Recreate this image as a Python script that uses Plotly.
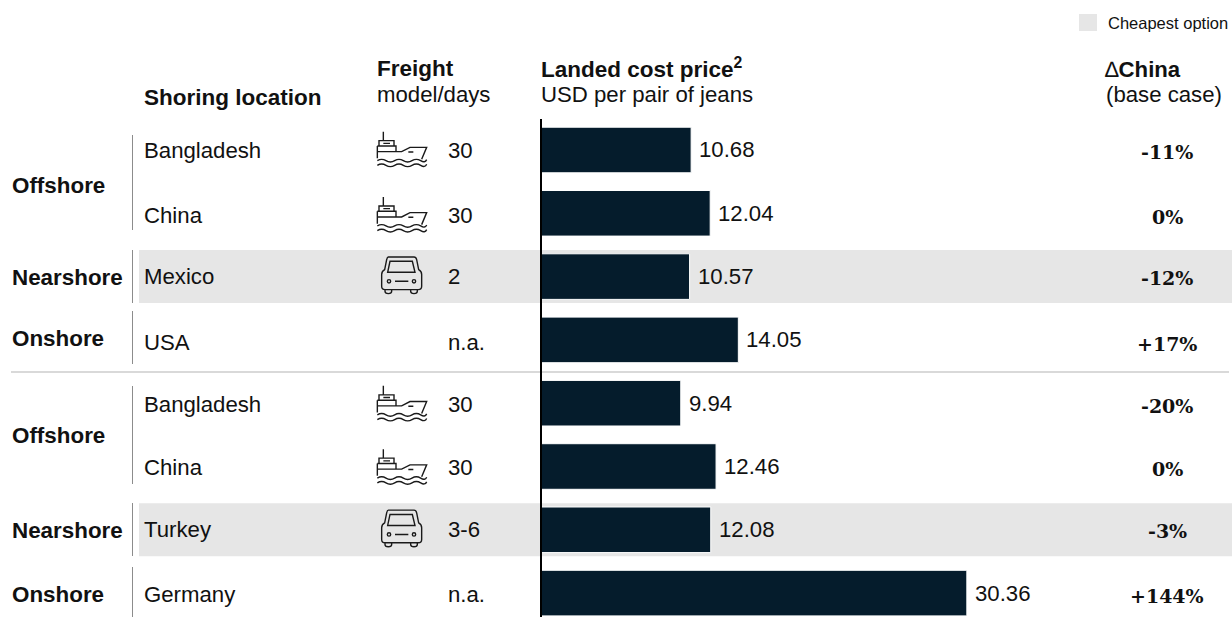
import plotly.graph_objects as go

W, H = 1232, 617

# ---- data ----
locations = ["Bangladesh", "China", "Mexico", "USA", "Bangladesh", "China", "Turkey", "Germany"]
freight_modes = ["ship", "ship", "car", None, "ship", "ship", "car", None]
freight_days = ["30", "30", "2", "n.a.", "30", "30", "3-6", "n.a."]
landed_cost = [10.68, 12.04, 10.57, 14.05, 9.94, 12.46, 12.08, 30.36]
delta_china = ["-11%", "0%", "-12%", "+17%", "-20%", "0%", "-3%", "+144%"]
cheapest_rows = [2, 6]
groups = ["Offshore", "Nearshore", "Onshore", "Offshore", "Nearshore", "Onshore"]

rows = list(range(len(locations)))

# ---- geometry ----
ROW0, ROW_H = 150.0, 63.3
AX_LEFT, AX_TOP = 541.5, 119
PX_PER_USD = 14.01
NAVY = "#051c2c"
GREY = "#e6e6e6"
INK = "#111111"
SANS = "Liberation Sans, Arial, sans-serif"
SERIF = "DejaVu Serif, Georgia, serif"


def fx(x):
    return x / W


def fy(y):
    return 1 - y / H


def row_y(i):
    return ROW0 + ROW_H * i


def scale_path(cmds):
    out = []
    for c in cmds:
        if isinstance(c, str):
            out.append(c)
        else:
            out.append(f"{fx(c[0]):.5f},{fy(c[1]):.5f}")
    return " ".join(out)


def ship_path(cy):
    def p(X, Y):
        return (360 + X / 3, cy + (Y - 180) / 3)
    c = []
    c += ["M", p(70, 125), "L", p(70, 150)]
    c += ["M", p(57, 168), "L", p(57, 152), "L", p(102, 152), "L", p(102, 168)]
    c += ["M", p(70, 160), "L", p(90, 160)]
    c += ["M", p(52, 168), "L", p(108, 168), "L", p(108, 185)]
    c += ["M", p(52, 168), "L", p(52, 205)]
    c += ["M", p(52, 185), "L", p(125, 185), "L", p(150, 172), "L", p(200, 172), "L", p(185, 208)]
    c += ["M", p(145, 186), "L", p(160, 186)]
    for wy in (212, 226):
        c += ["M", p(52, wy), "Q", p(65, wy - 8), p(78, wy), "T", p(104, wy), "T", p(130, wy), "T", p(156, wy), "T", p(182, wy), "T", p(200, wy - 3)]
    return scale_path(c)


def car_path(cy):
    def p(X, Y):
        return (360 + X / 3, cy + (Y - 561) / 3)
    c = []
    c += ["M", p(85, 502), "L", p(162, 502), "Q", p(168, 502), p(170, 510), "L", p(176, 540),
          "Q", p(185, 545), p(185, 555), "L", p(185, 590), "Q", p(185, 600), p(175, 600),
          "L", p(75, 600), "Q", p(65, 600), p(65, 590), "L", p(65, 555), "Q", p(65, 545), p(74, 540),
          "L", p(80, 510), "Q", p(82, 502), p(85, 502), "Z"]
    c += ["M", p(90, 515), "L", p(157, 515), "L", p(165, 548), "L", p(83, 548), "Z"]
    c += ["M", p(105, 575), "L", p(145, 575)]
    for lx in (87, 162):
        c += ["M", p(lx - 5, 575), "Q", p(lx - 5, 570), p(lx, 570), "Q", p(lx + 5, 570), p(lx + 5, 575),
              "Q", p(lx + 5, 580), p(lx, 580), "Q", p(lx - 5, 580), p(lx - 5, 575), "Z"]
    for wx in (75, 152):
        c += ["M", p(wx, 600), "L", p(wx, 605), "Q", p(wx, 612), p(wx + 10, 612), "Q", p(wx + 20, 612), p(wx + 20, 605), "L", p(wx + 20, 600)]
    return scale_path(c)


fig = go.Figure(go.Bar(
    x=landed_cost,
    y=rows,
    orientation="h",
    marker=dict(color=NAVY, line=dict(color="white", width=1)),
    width=0.72,
    hoverinfo="skip",
))

shapes = []


def rect(x0, y0, x1, y1, color):
    shapes.append(dict(type="rect", xref="paper", yref="paper", layer="below",
                       x0=fx(x0), x1=fx(x1), y0=fy(y0), y1=fy(y1),
                       fillcolor=color, line=dict(width=0)))


def line(x0, y0, x1, y1, color, width):
    shapes.append(dict(type="line", xref="paper", yref="paper", layer="below",
                       x0=fx(x0), x1=fx(x1), y0=fy(y0), y1=fy(y1),
                       line=dict(color=color, width=width)))


rect(1079, 14, 1097, 31, GREY)
for r in cheapest_rows:
    cy = row_y(r)
    rect(139, cy - 26.5, W, cy + 26.5, GREY)

line(11, 372, 1229, 372, "#cccccc", 1.5)
for y0, y1 in [(135, 230), (250, 303), (311, 364), (386, 484), (503, 556), (567, 617)]:
    line(132.5, y0, 132.5, y1, "#8c8c8c", 1)

label_shift = {1: 2, 3: 3, 4: 1, 5: 1, 7: 1}

for r, mode in enumerate(freight_modes):
    if mode is None:
        continue
    cy = row_y(r) + label_shift.get(r, 0)
    path = ship_path(cy) if mode == "ship" else car_path(cy)
    shapes.append(dict(type="path", xref="paper", yref="paper", layer="above",
                       path=path, line=dict(color="#1a1a1a", width=1.4)))

annotations = []


def text(x, y, s, size=22.2, anchor="left", family=SANS, color=INK):
    annotations.append(dict(xref="paper", yref="paper", x=fx(x), y=fy(y), text=s,
                            showarrow=False, xanchor=anchor, yanchor="middle",
                            align=anchor, borderpad=0,
                            font=dict(family=family, size=size, color=color)))


text(1107, 23, "Cheapest option", size=16.5)
text(143, 97, "<b>Shoring location</b>", size=22.5)
text(376, 68, "<b>Freight</b>", size=22.5)
text(376, 95, "model/days")
text(540, 68, "<b>Landed cost price<sup>2</sup></b>", size=22.5)
text(540, 95, "USD per pair of jeans")
text(1104, 69, "∆<b>China</b>")
text(1105, 95, "(base case)")

for name, y in zip(groups, [185, 277, 338, 435, 530, 594]):
    text(11, y, f"<b>{name}</b>", size=22.4)

for r, (loc, days, d) in enumerate(zip(locations, freight_days, delta_china)):
    cy = row_y(r) + label_shift.get(r, 0)
    text(143, cy, loc)
    text(447, cy, days)
    text(1167, cy + 1.5, f"<b>{d}</b>", size=19, anchor="center", family=SERIF)
    annotations.append(dict(xref="x", yref="y", x=landed_cost[r], y=r, text=f"{landed_cost[r]:.2f}",
                            showarrow=False, xanchor="left", yanchor="middle", xshift=6,
                            font=dict(family=SANS, size=22.2, color=INK)))

fig.update_layout(
    width=W, height=H,
    margin=dict(l=0, r=0, t=0, b=0),
    paper_bgcolor="white", plot_bgcolor="rgba(0,0,0,0)",
    showlegend=False,
    bargap=0.28,
    shapes=shapes,
    annotations=annotations,
    xaxis=dict(domain=[fx(AX_LEFT), 1], range=[0, (W - AX_LEFT) / PX_PER_USD],
               showgrid=False, zeroline=False, showticklabels=False, ticks=""),
    yaxis=dict(domain=[0, fy(AX_TOP)],
               range=[(H - ROW0) / ROW_H, (AX_TOP - ROW0) / ROW_H],
               showgrid=False, zeroline=False, showticklabels=False, ticks="",
               showline=True, linecolor="#000000", linewidth=1.5),
)

fig.write_html("out.html", config=dict(displayModeBar=False),
               post_script="document.documentElement.style.margin='0';document.body.style.margin='0';")
